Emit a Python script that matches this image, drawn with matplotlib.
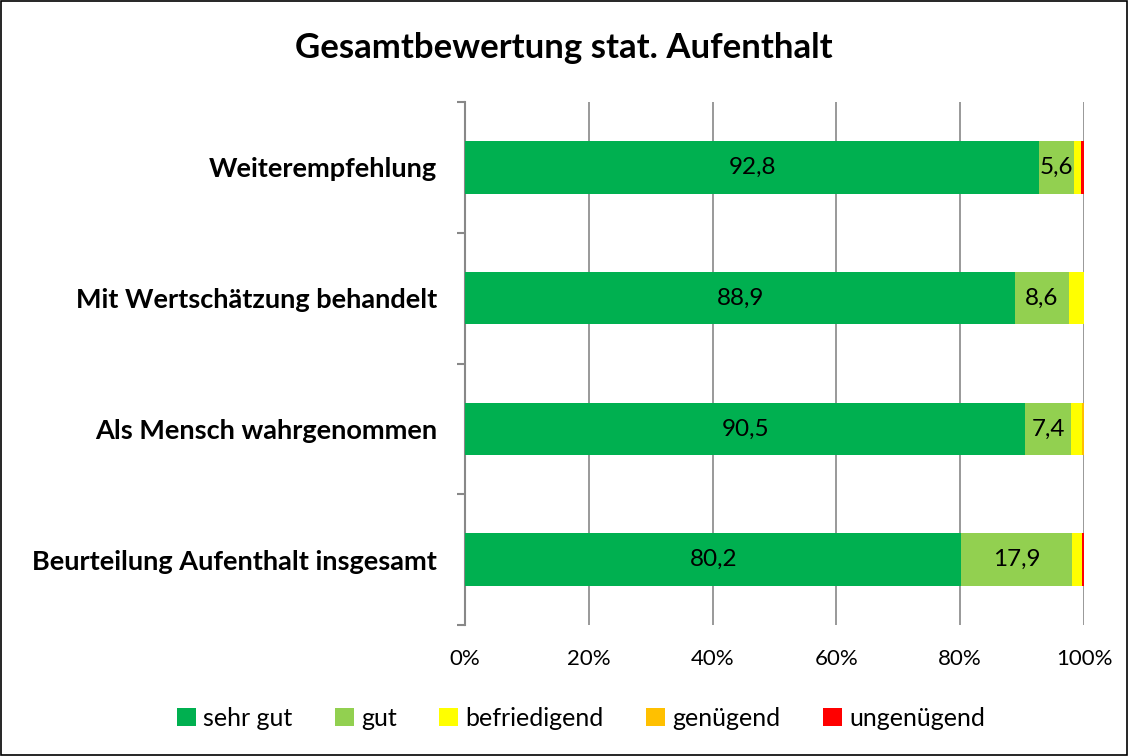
import matplotlib.pyplot as plt
import numpy as np

# Categories (top to bottom in the chart)
categories = ['Weiterempfehlung', 'Mit Wertschätzung behandelt',
              'Als Mensch wahrgenommen', 'Beurteilung Aufenthalt insgesamt']

# Percent shares per rating
sehr_gut = [92.8, 88.9, 90.5, 80.2]
gut = [5.6, 8.6, 7.4, 17.9]
befriedigend = [1.1, 2.5, 1.7, 1.5]
genuegend = [0.0, 0.0, 0.4, 0.0]
ungenuegend = [0.5, 0.0, 0.0, 0.4]

series_names = ['sehr gut', 'gut', 'befriedigend', 'genügend', 'ungenügend']
series_values = [sehr_gut, gut, befriedigend, genuegend, ungenuegend]
colors = ['#00B050', '#92D050', '#FFFF00', '#FFC000', '#FF0000']

plt.rcParams['font.family'] = ['Lato', 'DejaVu Sans']

fig = plt.figure(figsize=(11.28, 7.56), dpi=100)
ax = fig.add_axes([465 / 1128, 1 - 625 / 756, (1084 - 465) / 1128, (625 - 102) / 756])

# reverse so first category is at the top
ypos = np.arange(len(categories))[::-1]
left = np.zeros(len(categories))
for name, vals, col in zip(series_names, series_values, colors):
    vals = np.array(vals)
    bars = ax.barh(ypos, vals, left=left, height=0.4, color=col, label=name, zorder=3)
    if name in ('sehr gut', 'gut'):
        for b, v in zip(bars, vals):
            ax.text(b.get_x() + b.get_width() / 2, b.get_y() + b.get_height() / 2,
                    f'{v:.1f}'.replace('.', ','), ha='center', va='center',
                    fontsize=17.5, zorder=4)
    left += vals

ax.set_xlim(0, 100)
ax.set_ylim(-0.5, len(categories) - 0.5)
ax.set_xticks(np.arange(0, 101, 20))
ax.set_xticklabels([f'{t}%' for t in range(0, 101, 20)], fontsize=16)
ax.set_yticks(ypos)
ax.set_yticklabels(categories, fontsize=19.5, fontweight='bold')
ax.set_yticks(np.arange(-0.5, len(categories), 1), minor=True)
ax.tick_params(axis='y', which='major', length=0, pad=20)
ax.tick_params(axis='y', which='minor', length=6, color='#888888', width=1.5)
ax.tick_params(axis='x', length=0, pad=17)
ax.grid(axis='x', color='#888888', linewidth=1.2, zorder=0)
for s in ['top', 'right', 'bottom']:
    ax.spines[s].set_visible(False)
ax.spines['left'].set_color('#888888')
ax.spines['left'].set_linewidth(1.5)

fig.text(0.5, 1 - 48 / 756, 'Gesamtbewertung stat. Aufenthalt', ha='center', va='center',
         fontsize=25, fontweight='bold')

handles, labels = ax.get_legend_handles_labels()
fig.legend(handles, labels, loc='center', bbox_to_anchor=(581 / 1128, 1 - 718 / 756), ncol=5,
           frameon=False, fontsize=18, handlelength=0.75, handleheight=0.75,
           handletextpad=0.3, columnspacing=1.7)

# outer frame
fig.patches.append(plt.Rectangle((0.001, 0.001), 0.998, 0.998, transform=fig.transFigure,
                                 fill=False, edgecolor='black', linewidth=1.2))

fig.savefig('out.png', dpi=100)
